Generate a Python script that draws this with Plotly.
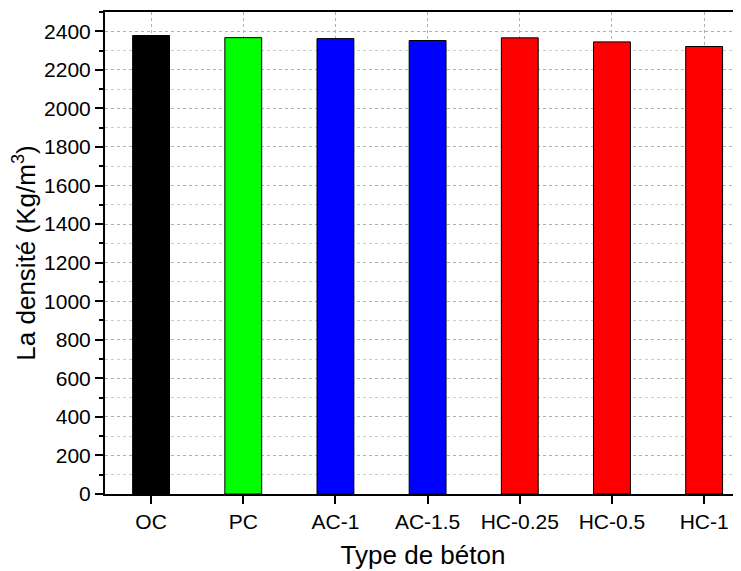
import plotly.graph_objects as go

categories = ["OC", "PC", "AC-1", "AC-1.5", "HC-0.25", "HC-0.5", "HC-1"]
density = [2378, 2367, 2362, 2352, 2366, 2345, 2321]
colors = ["#000000", "#00FF00", "#0000FF", "#0000FF", "#FF0000", "#FF0000", "#FF0000"]

fig = go.Figure(go.Bar(
    x=list(range(len(categories))),
    y=density,
    width=0.4,
    marker=dict(color=colors, line=dict(color="#000000", width=1)),
))

font_family = "Arial, Liberation Sans, sans-serif"
fig.update_layout(
    width=733, height=563,
    margin=dict(l=97, r=0, t=4, b=77),
    plot_bgcolor="white", paper_bgcolor="white",
    font=dict(family=font_family, color="black", size=21),
    showlegend=False,
    xaxis=dict(
        range=[-0.5, 6.4],
        tickmode="array",
        tickvals=list(range(len(categories))),
        ticktext=categories,
        ticks="outside", ticklen=8, tickwidth=2, tickcolor="black",
        showline=True, linecolor="black", linewidth=2, mirror=True,
        showgrid=True, gridcolor="#b0b0b0", griddash="dot", gridwidth=1,
        title=dict(text="Type de béton", font=dict(size=26, family=font_family), standoff=14),
        tickfont=dict(size=21, family=font_family),
        zeroline=False,
    ),
    yaxis=dict(
        range=[0, 2500],
        tickmode="linear", tick0=0, dtick=200,
        ticks="outside", ticklen=8, tickwidth=2, tickcolor="black",
        showline=True, linecolor="black", linewidth=2,
        showgrid=True, gridcolor="#b0b0b0", griddash="dot", gridwidth=1,
        minor=dict(dtick=100, ticks="outside", ticklen=4, tickwidth=1.5, tickcolor="black",
                   showgrid=True, gridcolor="#cccccc", griddash="dot", gridwidth=1),
        title=dict(text="La densité (Kg/m<sup>3</sup>)", font=dict(size=26, family=font_family), standoff=4),
        tickfont=dict(size=21, family=font_family),
        zeroline=False,
    ),
)

fig.write_html("out.html")
